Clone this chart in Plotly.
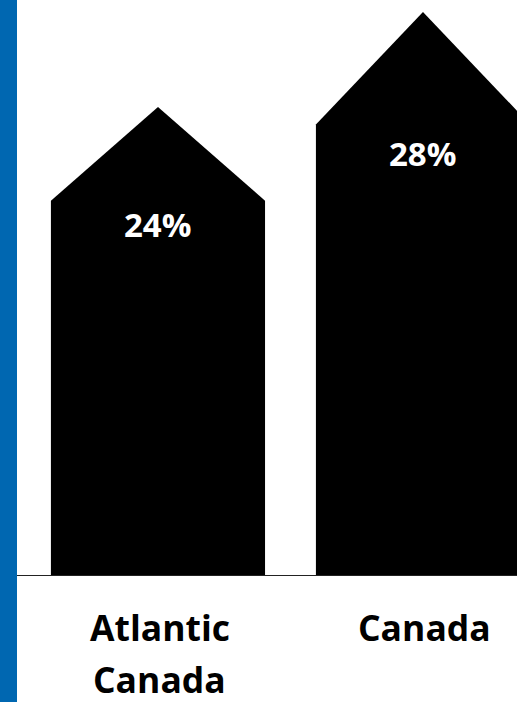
import plotly.graph_objects as go

categories = ["Atlantic<br>Canada", "Canada"]
values = [23.6, 28.4]
value_labels = ["24%", "28%"]

half_w = 0.404
roof_frac = 0.2
label_frac = 0.748

fig = go.Figure()
for i, v in enumerate(values):
    shoulder = v * (1 - roof_frac)
    xs = [i - half_w, i - half_w, i, i + half_w, i + half_w, i - half_w]
    ys = [0, shoulder, v, shoulder, 0, 0]
    fig.add_trace(go.Scatter(x=xs, y=ys, mode="lines", fill="toself",
                             fillcolor="#000000", line=dict(width=0, color="#000000"),
                             hoverinfo="skip", showlegend=False))
    fig.add_annotation(x=i, y=v * label_frac, text=f"<b>{value_labels[i]}</b>",
                       showarrow=False, yanchor="middle",
                       font=dict(family="Open Sans", size=33, color="white"))
    for k, line in enumerate(categories[i].split("<br>")):
        fig.add_annotation(x=i, xref="x", yref="paper", y=-(52 + 52 * k) / 575,
                           text=f"<b>{line}</b>", showarrow=False, yanchor="middle",
                           xshift=2,
                           font=dict(family="Open Sans", size=35.5, color="#000000"))

fig.add_shape(type="rect", xref="paper", yref="paper",
              x0=-17 / 500, x1=0, y0=-127 / 575, y1=1,
              fillcolor="#0067b1", line=dict(width=0), layer="above")

fig.update_layout(
    width=517, height=702,
    margin=dict(l=17, r=0, t=0, b=127),
    plot_bgcolor="white", paper_bgcolor="white",
    xaxis=dict(range=[-0.532, -0.532 + 500 / 265], tickvals=[0, 1],
               showticklabels=False,
               showgrid=False, zeroline=False, showline=True,
               linecolor="#222222", linewidth=1, ticks=""),
    yaxis=dict(range=[0, 29.0], visible=False, showgrid=False),
)

fig.write_html("out.html")
